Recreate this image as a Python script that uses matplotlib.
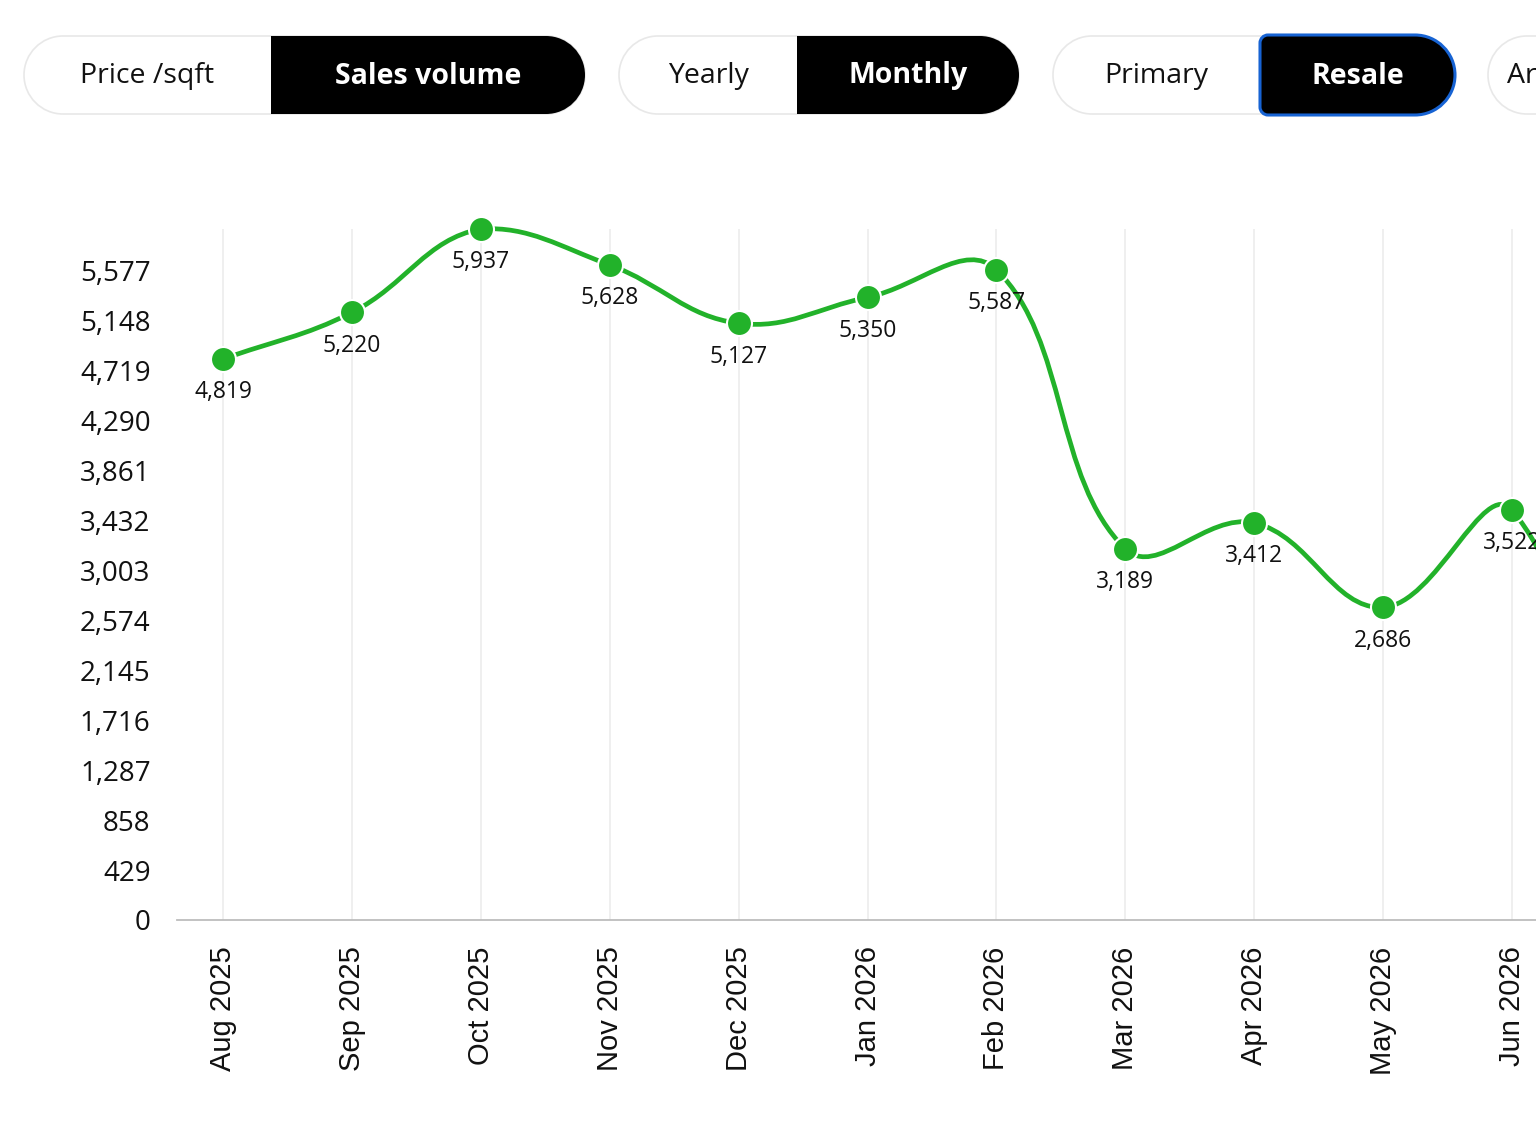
import numpy as np
import matplotlib
matplotlib.use("Agg")
import matplotlib.pyplot as plt
from matplotlib.path import Path
from matplotlib.patches import PathPatch

# data (Jul 2026 runs off the right edge)
months = ["Aug 2025", "Sep 2025", "Oct 2025", "Nov 2025", "Dec 2025", "Jan 2026",
          "Feb 2026", "Mar 2026", "Apr 2026", "May 2026", "Jun 2026", "Jul 2026"]
volume = [4819, 5220, 5937, 5628, 5127, 5350, 5587, 3189, 3412, 2686, 3522, 0]
y_ticks = [0, 429, 858, 1287, 1716, 2145, 2574, 3003, 3432, 3861, 4290, 4719, 5148, 5577]

# toggle buttons on top: (left label, right label)
tabs = [("Price /sqft", "Sales volume"), ("Yearly", "Monthly"), ("Primary", "Resale")]

GREEN = "#22b22a"
UI_FONT = ["Open Sans", "DejaVu Sans"]

W, H = 1536, 1130
fig = plt.figure(figsize=(W / 100, H / 100), dpi=100)
fig.patch.set_facecolor("white")

# chart area in pixels: left 177, right edge of figure, top 229, bottom 920
ax = fig.add_axes([177 / W, 1 - 920 / H, (W - 177) / W, (920 - 229) / H])
x = np.arange(len(months))

ax.set_xticks(x)
ax.set_xticklabels(months, rotation=90, fontsize=21, family=["Liberation Sans", "DejaVu Sans"])
ax.set_yticks(y_ticks)
ax.set_yticklabels([f"{t:,}" for t in y_ticks], fontsize=20, family=UI_FONT)
# limits after the ticks, otherwise set_xticks widens the view
ax.set_xlim(-46 / 128.9, (W - 223) / 128.9)
ax.set_ylim(0, max(volume))


def spline_path(xs, ys, tension=0.4):
    # same idea as chart.js bezier smoothing, done in pixel space
    pts = ax.transData.transform(np.column_stack([xs, ys]))
    top = ax.transAxes.transform((0, 1))[1] + 3
    n = len(pts)
    cprev = np.zeros_like(pts)
    cnext = np.zeros_like(pts)
    for i in range(n):
        p = pts[max(i - 1, 0)]
        c = pts[i]
        nx = pts[min(i + 1, n - 1)]
        d01 = np.hypot(*(c - p))
        d12 = np.hypot(*(nx - c))
        s = d01 + d12
        fa = tension * d01 / s if s else 0
        fb = tension * d12 / s if s else 0
        cprev[i] = c - fa * (nx - p)
        cnext[i] = c + fb * (nx - p)
    cprev[:, 1] = np.minimum(cprev[:, 1], top)
    cnext[:, 1] = np.minimum(cnext[:, 1], top)
    verts = [pts[0]]
    codes = [Path.MOVETO]
    for i in range(1, n):
        verts += [cnext[i - 1], cprev[i], pts[i]]
        codes += [Path.CURVE4] * 3
    inv = ax.transData.inverted()
    return Path(inv.transform(np.array(verts)), codes)


ax.add_patch(PathPatch(spline_path(x, volume), fill=False, edgecolor=GREEN,
                       linewidth=3.4, capstyle="round", zorder=3, clip_on=False))
ax.plot(x, volume, "o", ms=18, mfc=GREEN, mec="white", mew=1.5, zorder=4, clip_on=False)
for i, v in enumerate(volume):
    ax.annotate(f"{v:,}", (i, v), xytext=(0, -24), textcoords="offset points",
                ha="center", va="center", fontsize=16.5, family=UI_FONT,
                color="#111111", zorder=5)
ax.set_xlim(-46 / 128.9, (W - 223) / 128.9)
ax.set_ylim(0, max(volume))

for s in ["top", "right", "left"]:
    ax.spines[s].set_visible(False)
ax.spines["bottom"].set_color("#bdbdbd")
ax.spines["bottom"].set_linewidth(1.3)

ax.tick_params(axis="both", length=0, colors="#111111")
ax.tick_params(axis="x", pad=19)
ax.tick_params(axis="y", pad=19)
ax.grid(axis="x", color="#ececec", linewidth=1.2)
ax.set_axisbelow(True)

# overlay in pixel coordinates for the buttons
ui = fig.add_axes([0, 0, 1, 1])
ui.set_xlim(0, W)
ui.set_ylim(H, 0)
ui.axis("off")


def pill(x0, y0, x1, y1, rl, rr):
    k = 0.5523
    v = [(x0 + rl, y0), (x1 - rr, y0),
         (x1 - rr + k * rr, y0), (x1, y0 + rr - k * rr), (x1, y0 + rr),
         (x1, y1 - rr),
         (x1, y1 - rr + k * rr), (x1 - rr + k * rr, y1), (x1 - rr, y1),
         (x0 + rl, y1),
         (x0 + rl - k * rl, y1), (x0, y1 - rl + k * rl), (x0, y1 - rl),
         (x0, y0 + rl),
         (x0, y0 + rl - k * rl), (x0 + rl - k * rl, y0), (x0 + rl, y0),
         (x0 + rl, y0)]
    c = [Path.MOVETO, Path.LINETO] + [Path.CURVE4] * 3 + [Path.LINETO] + [Path.CURVE4] * 3 \
        + [Path.LINETO] + [Path.CURVE4] * 3 + [Path.LINETO] + [Path.CURVE4] * 3 + [Path.CLOSEPOLY]
    return Path(v, c)


groups = [(24, 271, 585), (619, 797, 1019), (1053, 1260, 1455)]
for (left_txt, right_txt), (gx0, gmid, gx1) in zip(tabs, groups):
    ui.add_patch(PathPatch(pill(gx0, 36, gx1, 114, 39, 39), fc="white", ec="#e8e8e8", lw=1.2))
    if right_txt == "Resale":
        ui.add_patch(PathPatch(pill(gmid, 35, gx1, 115, 8, 40), fc="black", ec="#1763d3", lw=2.2))
    else:
        ui.add_patch(PathPatch(pill(gmid, 36, gx1, 114, 0, 39), fc="black", ec="none"))
    ui.text((gx0 + gmid) / 2, 76, left_txt, ha="center", va="center", fontsize=20.5,
            family=UI_FONT, color="#111111")
    ui.text((gmid + gx1) / 2, 76, right_txt, ha="center", va="center", fontsize=20.5,
            family=UI_FONT, weight="bold", color="white")

# next group, cut off by the edge
ui.add_patch(PathPatch(pill(1488, 36, 1700, 114, 39, 39), fc="white", ec="#e8e8e8", lw=1.2))
ui.text(1507, 76, "Area", ha="left", va="center", fontsize=20.5, family=UI_FONT, color="#111111")

fig.savefig("out.png", dpi=100)
